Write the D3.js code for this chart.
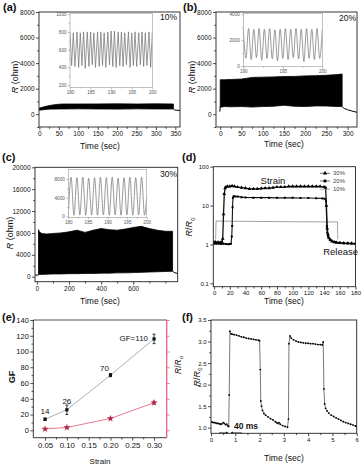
<!DOCTYPE html>
<html>
<head>
<meta charset="utf-8">
<script src="https://cdn.jsdelivr.net/npm/d3@7"></script>
<style>
body{margin:0;background:#fff;}
svg{display:block;font-family:"Liberation Sans",Arial,sans-serif;}
</style>
</head>
<body>
<svg id="fig" width="362" height="465"></svg>
<script>
/* ---- data ---- */

// (a) 10% strain: envelope of the dense cycling band + tail
var bandATime = [0, 10, 20, 30, 40, 50, 60, 100, 150, 200, 250, 300, 345];
var bandAHigh = [480, 560, 640, 700, 750, 780, 800, 800, 805, 810, 800, 810, 800];
var bandALow  = [320, 350, 380, 400, 400, 410, 410, 420, 410, 400, 420, 410, 410];
var tailATime = [345, 348, 352, 362];
var tailAVal  = [410, 340, 310, 300];
// (a) inset, 180-200 s
var insetATime = [180.0, 180.4, 180.8, 181.2, 181.7, 182.1, 182.5, 182.9, 183.3, 183.7, 184.2, 184.6, 185.0, 185.4, 185.8, 186.2, 186.7, 187.1, 187.5, 187.9, 188.3, 188.7, 189.2, 189.6, 190.0, 190.4, 190.8, 191.2, 191.7, 192.1, 192.5, 192.9, 193.3, 193.7, 194.2, 194.6, 195.0, 195.4, 195.8, 196.2, 196.7, 197.1, 197.5, 197.9, 198.3, 198.7, 199.2, 199.6, 200.0];
var insetAVal  = [790, 420, 790, 410, 800, 400, 790, 420, 800, 390, 800, 410, 800, 430, 790, 400, 800, 410, 800, 420, 790, 400, 800, 430, 810, 410, 810, 400, 800, 420, 800, 410, 790, 430, 800, 400, 790, 420, 800, 410, 790, 430, 800, 410, 790, 420, 800, 400, 800];

// (b) 20% strain
var bandBTime = [0, 10, 25, 50, 75, 100, 125, 150, 175, 200, 225, 250, 275, 287];
var bandBHigh = [2700, 2700, 2720, 2750, 2880, 2900, 2920, 2950, 2960, 3000, 3020, 3050, 3100, 3150];
var bandBLow  = [550, 600, 580, 600, 560, 600, 620, 700, 620, 600, 650, 640, 600, 600];
var headBTime = [-1, 0];
var headBVal  = [200, 600];
var tailBTime = [287, 288, 292, 300, 310, 322];
var tailBVal  = [600, 550, 450, 350, 250, 150];
var insetBTime = [190.0, 190.33, 190.67, 191.0, 191.33, 191.67, 192.0, 192.33, 192.67, 193.0, 193.33, 193.67, 194.0, 194.33, 194.67, 195.0, 195.33, 195.67, 196.0, 196.33, 196.67, 197.0, 197.33, 197.67, 198.0, 198.33, 198.67, 199.0, 199.33, 199.67, 200.0];
var insetBVal  = [2850, 600, 2900, 500, 2850, 650, 2900, 450, 2850, 600, 2900, 550, 2800, 400, 2850, 600, 2900, 500, 2850, 650, 2900, 550, 2850, 350, 2900, 600, 2850, 500, 2900, 600, 2850];

// (c) 30% strain
var bandCTime = [10, 15, 30, 60, 100, 150, 200, 250, 300, 350, 400, 450, 500, 550, 600, 650, 700, 750, 800, 845];
var bandCHigh = [8600, 8200, 7900, 7800, 7900, 8000, 8200, 8500, 8100, 8500, 8800, 8600, 8500, 8700, 9000, 9200, 8800, 8500, 8300, 8300];
var bandCLow  = [400, 400, 420, 450, 500, 500, 550, 550, 600, 600, 650, 650, 700, 700, 750, 800, 850, 900, 950, 1000];
var headCTime = [-12, 10];
var headCVal  = [300, 300];
var tailCTime = [845, 850, 860, 877];
var tailCVal  = [1000, 900, 700, 600];
var insetCTime = [180.0, 180.7, 181.45, 182.2, 182.95, 183.7, 184.45, 185.2, 185.95, 186.7, 187.45, 188.2, 188.95, 189.7, 190.45, 191.2, 191.95, 192.7, 193.45, 194.2, 194.95, 195.7, 196.45, 197.2, 197.95, 198.7, 199.45, 200.0];
var insetCVal  = [300, 8400, 250, 8300, 300, 8400, 250, 8200, 300, 8300, 250, 8400, 300, 8300, 250, 8400, 300, 8200, 250, 8300, 300, 8400, 250, 8300, 300, 8400, 250, 4000];

// (d) R/R0 vs time for three strains
var d30 = [[0,1.15],[2,1.14],[4,1.12],[6,1.13],[8,1.12],[10,1.14],[11,1.4],[12,6],[13,20],[14,28],[15,30],[17,31],[20,31],[23,32],[26,31],[30,30],[35,29],[40,28],[45,27],[50,27],[55,27],[60,27.5],[65,28],[70,28],[75,29],[80,30],[85,30],[90,30],[95,31],[100,31],[105,31],[110,31],[115,31],[120,31],[125,31],[130,31],[135,31],[140,30],[142,29],[143,10],[144,2.6],[145,1.8],[146,1.5],[148,1.3],[150,1.2],[153,1.15],[156,1.12],[160,1.1],[165,1.08],[170,1.07],[175,1.06],[180,1.05]];
var d20 = [[0,1.05],[3,1.04],[6,1.05],[9,1.03],[12,1.04],[15,1.03],[18,1.02],[20,1.03],[21.5,1.05],[22.5,1.6],[23,3],[23.5,9],[24,16],[25,17.5],[27,17.2],[30,17],[35,16.5],[40,16.2],[50,16],[60,16],[70,16],[80,15.8],[90,15.8],[100,15.8],[110,15.7],[120,15.6],[130,15.5],[138,15.3],[141,15],[142.5,13],[143.5,3],[144,2],[145,1.6],[147,1.4],[150,1.25],[155,1.15],[160,1.1],[165,1.08],[170,1.07],[175,1.06],[180,1.05]];
var d10 = [[2,1.35],[2.5,4.0],[30,3.95],[60,3.9],[100,3.85],[140,3.8],[157,3.8],[157.5,1.35]];
var dLegend = ["30%", "20%", "10%"];

// (e) gauge factor and R/R0 vs strain
var strain  = [0.05, 0.10, 0.20, 0.30];
var gf      = [14, 26, 70, 116];
var gfErr   = [1.5, 6, 2, 6];
var rr      = [1.7, 3.6, 15, 35];
var rrErr   = [0.5, 0.8, 1, 2];
var gfLabel = ["14", "26", "70", "GF=110"];

// (f) fast response, R/R0 vs time (s)
var fData = [[0.0,1.14],[0.05,1.13],[0.1,1.12],[0.15,1.12],[0.2,1.11],[0.25,1.1],[0.3,1.1],[0.35,1.09],[0.4,1.08],[0.45,1.09],[0.5,1.12],[0.55,1.1],[0.6,1.07],[0.65,1.08],[0.7,1.04],[0.73,1.03],
 [0.75,1.76],[0.78,3.24],[0.82,3.18],[0.87,3.17],[0.95,3.16],[1.05,3.15],[1.15,3.13],[1.25,3.11],[1.35,3.1],[1.45,3.08],[1.55,3.07],[1.65,3.06],[1.75,3.05],[1.85,3.04],[1.95,3.03],[2.0,3.02],
 [2.03,2.35],[2.05,1.62],[2.08,1.5],[2.12,1.4],[2.18,1.33],[2.25,1.29],[2.35,1.25],[2.45,1.21],[2.55,1.18],[2.65,1.14],[2.7,1.12],[2.75,1.1],[2.8,1.12],[2.85,1.08],[2.95,1.05],[3.05,1.03],[3.15,1.01],
 [3.19,1.2],[3.21,2.95],[3.25,3.13],[3.3,3.08],[3.4,3.04],[3.5,3.01],[3.6,2.99],[3.7,2.98],[3.8,2.97],[3.9,2.96],[4.0,2.96],[4.1,2.95],[4.2,2.95],[4.3,2.94],[4.4,2.93],[4.5,2.93],[4.58,2.92],[4.62,2.99],
 [4.65,1.9],[4.68,1.55],[4.72,1.45],[4.78,1.39],[4.85,1.34],[4.95,1.29],[5.05,1.26],[5.15,1.23],[5.25,1.2],[5.35,1.17],[5.45,1.14],[5.55,1.12],[5.65,1.1],[5.75,1.08],[5.85,1.06],[5.95,1.04],[6.0,1.03]];

/* ---- helpers ---- */
var svg = d3.select("#fig");
var ink = "#222";

//builds scales + a clipped group for one plot box
var makePanel = function(id, box, xDom, yDom, log, bg)
{
    if (bg)
    {
        svg.append("rect").attr("x", box.l).attr("y", box.t)
            .attr("width", box.r - box.l).attr("height", box.b - box.t)
            .attr("fill", "#fff");
    }
    var x = d3.scaleLinear().domain(xDom).range([box.l, box.r]);
    var y = (log ? d3.scaleLog() : d3.scaleLinear()).domain(yDom).range([box.b, box.t]);
    svg.append("clipPath").attr("id", id)
        .append("rect").attr("x", box.l).attr("y", box.t)
        .attr("width", box.r - box.l).attr("height", box.b - box.t);
    var g = svg.append("g").attr("clip-path", "url(#" + id + ")");
    return {x: x, y: y, box: box, g: g};
}

var drawFrame = function(p, color, sw)
{
    svg.append("rect").attr("x", p.box.l).attr("y", p.box.t)
        .attr("width", p.box.r - p.box.l).attr("height", p.box.b - p.box.t)
        .attr("fill", "none").attr("stroke", color || ink).attr("stroke-width", sw || 0.9);
}

// one axis = minor ticks (no text) + major ticks with labels
var drawAxis = function(p, side, majors, minors, fmt, fs, o)
{
    o = o || {};
    var color = o.color || ink;
    var len = o.len || 3;
    var scale = (side == "bottom") ? p.x : p.y;
    var maker = {bottom: d3.axisBottom, left: d3.axisLeft, right: d3.axisRight}[side];
    var pos = side == "bottom" ? "translate(0," + p.box.b + ")" :
              side == "left" ? "translate(" + p.box.l + ",0)" : "translate(" + p.box.r + ",0)";
    if (minors && minors.length)
    {
        var gm = svg.append("g").attr("transform", pos).attr("color", color)
            .call(maker(scale).tickValues(minors).tickFormat("").tickSize(len * 0.6).tickSizeOuter(0));
        gm.select(".domain").remove();
        gm.selectAll("line").attr("stroke-width", o.sw || 0.8);
    }
    var g = svg.append("g").attr("transform", pos).attr("color", color)
        .call(maker(scale).tickValues(majors).tickFormat(fmt).tickSize(len).tickPadding(o.pad || 1.5).tickSizeOuter(0));
    g.attr("font-size", fs).attr("font-family", null);
    g.select(".domain").remove();
    g.selectAll("line").attr("stroke-width", o.sw || 0.8);
    g.selectAll("text").attr("fill", o.textColor || "#111");
    return g;
}

var text = function(x, y, str, fs, anchor, weight)
{
    return svg.append("text").attr("x", x).attr("y", y).attr("font-size", fs)
        .attr("text-anchor", anchor || "start").attr("font-weight", weight || "normal")
        .attr("fill", "#111").text(str);
}

var titleROhm = function(x, y, fs)
{
    var t = svg.append("text").attr("transform", "translate(" + x + "," + y + ") rotate(-90)")
        .attr("text-anchor", "middle").attr("font-size", fs).attr("fill", "#111");
    t.append("tspan").attr("font-style", "italic").text("R");
    t.append("tspan").text(" (ohm)");
}

var titleRR = function(x, y, fs)
{
    var t = svg.append("text").attr("transform", "translate(" + x + "," + y + ") rotate(-90)")
        .attr("text-anchor", "middle").attr("font-size", fs).attr("fill", "#111");
    t.append("tspan").attr("font-style", "italic").text("R");
    t.append("tspan").text("/");
    t.append("tspan").attr("font-style", "italic").text("R");
    t.append("tspan").attr("dy", fs * 0.3).attr("font-size", fs * 0.7).text("o");
}

var bandArea = function(p, time, high, low)
{
    var area = d3.area()
        .x(function(d) { return p.x(d[0]); })
        .y0(function(d) { return p.y(d[2]); })
        .y1(function(d) { return p.y(d[1]); });
    p.g.append("path").datum(d3.zip(time, high, low))
        .attr("d", area).attr("fill", "#000").attr("stroke", "#000").attr("stroke-width", 0.8);
}

var trace = function(p, time, vals, color, sw, curve)
{
    var line = d3.line()
        .x(function(d) { return p.x(d[0]); })
        .y(function(d) { return p.y(d[1]); })
        .curve(curve || d3.curveLinear);
    p.g.append("path").datum(d3.zip(time, vals))
        .attr("d", line).attr("fill", "none").attr("stroke", color).attr("stroke-width", sw);
}

var fmtInt = d3.format("d");

/* ---- (a) ---- */
var pa = makePanel("ca", {l: 39, r: 180, t: 12, b: 127}, [-1, 362], [-1000, 8000]);
bandArea(pa, bandATime, bandAHigh, bandALow);
trace(pa, tailATime, tailAVal, "#000", 1);
drawFrame(pa);
drawAxis(pa, "left", [0, 2000, 4000, 6000, 8000], [-1000, 1000, 3000, 5000, 7000], fmtInt, 6.5);
drawAxis(pa, "bottom", [0, 50, 100, 150, 200, 250, 300, 350], [25, 75, 125, 175, 225, 275, 325], fmtInt, 6.5);
var ia = makePanel("cia", {l: 70, r: 152.3, t: 13.3, b: 87.3}, [180, 200], [175, 1010], false, true);
trace(ia, insetATime, insetAVal, "#6f6f6f", 0.7);
drawFrame(ia, "#999", 0.6);
drawAxis(ia, "left", [200, 400, 600, 800, 1000], [300, 500, 700, 900], fmtInt, 4.6, {color: "#777", len: 2, sw: 0.5, textColor: "#555"});
drawAxis(ia, "bottom", [180, 185, 190, 195, 200], [182.5, 187.5, 192.5, 197.5], fmtInt, 4.6, {color: "#777", len: 2, sw: 0.5, textColor: "#555"});
text(3, 10.5, "(a)", 11, "start", "bold");
text(177, 20, "10%", 8.5, "end");
titleROhm(18, 77, 9);
text(100, 148.5, "Time (sec)", 8.5, "middle");

/* ---- (b) ---- */
var pb = makePanel("cb", {l: 216, r: 357, t: 12, b: 127}, [-10, 322], [-1000, 8000]);
bandArea(pb, bandBTime, bandBHigh, bandBLow);
trace(pb, headBTime, headBVal, "#000", 1);
trace(pb, tailBTime, tailBVal, "#000", 1);
drawFrame(pb);
drawAxis(pb, "left", [0, 2000, 4000, 6000, 8000], [-1000, 1000, 3000, 5000, 7000], fmtInt, 6.5);
drawAxis(pb, "bottom", [0, 50, 100, 150, 200, 250, 300], [25, 75, 125, 175, 225, 275], fmtInt, 6.5);
var ib = makePanel("cib", {l: 243.3, r: 322.3, t: 13.3, b: 66.7}, [190, 200], [-50, 4080], false, true);
trace(ib, insetBTime, insetBVal, "#6f6f6f", 0.7, d3.curveMonotoneX);
drawFrame(ib, "#999", 0.6);
drawAxis(ib, "left", [0, 2000, 4000], [1000, 3000], fmtInt, 4.6, {color: "#777", len: 2, sw: 0.5, textColor: "#555"});
drawAxis(ib, "bottom", [190, 195, 200], [192.5, 197.5], fmtInt, 4.6, {color: "#777", len: 2, sw: 0.5, textColor: "#555"});
text(183, 10.5, "(b)", 11, "start", "bold");
text(356, 21, "20%", 8.5, "end");
titleROhm(195, 77, 9);
text(284, 147, "Time (sec)", 8.5, "middle");

/* ---- (c) ---- */
var pc = makePanel("cc", {l: 35, r: 177.7, t: 167.3, b: 281.7}, [-12, 877], [-915, 20000]);
bandArea(pc, bandCTime, bandCHigh, bandCLow);
trace(pc, headCTime, headCVal, "#000", 1);
trace(pc, tailCTime, tailCVal, "#000", 1);
drawFrame(pc);
drawAxis(pc, "left", [0, 4000, 8000, 12000, 16000, 20000], [2000, 6000, 10000, 14000, 18000], fmtInt, 6.5);
drawAxis(pc, "bottom", [0, 200, 400, 600], [100, 300, 500, 700, 800], fmtInt, 6.5);
var ic = makePanel("cic", {l: 68.3, r: 146.7, t: 169.3, b: 217.3}, [180, 200], [-200, 10100], false, true);
trace(ic, insetCTime, insetCVal, "#6f6f6f", 0.7, d3.curveMonotoneX);
drawFrame(ic, "#999", 0.6);
drawAxis(ic, "left", [0, 4000, 8000], [2000, 6000], fmtInt, 4.6, {color: "#777", len: 2, sw: 0.5, textColor: "#555"});
drawAxis(ic, "bottom", [180, 185, 190, 195, 200], [182.5, 187.5, 192.5, 197.5], fmtInt, 4.6, {color: "#777", len: 2, sw: 0.5, textColor: "#555"});
text(2, 160.5, "(c)", 11, "start", "bold");
text(177, 177, "30%", 8.5, "end");
titleROhm(12.5, 233, 9);
text(100, 304, "Time (sec)", 8.5, "middle");

/* ---- (d) ---- */
var pd = makePanel("cd", {l: 213.3, r: 355.5, t: 166.7, b: 286.7}, [-1, 180], [0.082, 100], true);
var dLine = d3.line()
    .x(function(d) { return pd.x(d[0]); })
    .y(function(d) { return pd.y(d[1]); });
pd.g.append("path").datum(d10).attr("d", dLine).attr("fill", "none").attr("stroke", "#8a8a8a").attr("stroke-width", 0.8);
pd.g.append("path").datum(d20).attr("d", dLine).attr("fill", "none").attr("stroke", "#111").attr("stroke-width", 1.1);
pd.g.selectAll(".m20").data(d20).enter().append("path")
    .attr("transform", function(d) { return "translate(" + pd.x(d[0]) + "," + pd.y(d[1]) + ")"; })
    .attr("d", d3.symbol(d3.symbolSquare).size(4)).attr("fill", "#000");
pd.g.append("path").datum(d30).attr("d", dLine).attr("fill", "none").attr("stroke", "#111").attr("stroke-width", 1.3);
pd.g.selectAll(".m30").data(d30).enter().append("path")
    .attr("transform", function(d) { return "translate(" + pd.x(d[0]) + "," + pd.y(d[1]) + ")"; })
    .attr("d", d3.symbol(d3.symbolTriangle).size(6)).attr("fill", "#000");
drawFrame(pd);
drawAxis(pd, "left", [0.1, 1, 10, 100], [], d3.format(""), 6);
drawAxis(pd, "bottom", [0, 20, 40, 60, 80, 100, 120, 140, 160, 180], [10, 30, 50, 70, 90, 110, 130, 150, 170], fmtInt, 6);
// legend
var legY = [173.3, 181, 189.3];
var legSym = [d3.symbolTriangle, d3.symbolSquare, null];
dLegend.forEach(function(lab, i)
{
    svg.append("line").attr("x1", 320).attr("x2", 330).attr("y1", legY[i]).attr("y2", legY[i])
        .attr("stroke", i == 2 ? "#8a8a8a" : "#333").attr("stroke-width", 0.7);
    if (legSym[i])
    {
        svg.append("path").attr("transform", "translate(325," + legY[i] + ")")
            .attr("d", d3.symbol(legSym[i]).size(8)).attr("fill", "#000");
    }
    text(333, legY[i] + 2, lab, 6, "start").attr("fill", "#444");
});
text(273, 184, "Strain", 9.5, "middle");
text(358, 255, "Release", 9.5, "end");
text(182, 160.5, "(d)", 11, "start", "bold");
titleRR(192, 227, 9);
text(284, 304, "Time (sec)", 8.5, "middle");

/* ---- (e) ---- */
var pe = makePanel("ce", {l: 33.3, r: 166.7, t: 320, b: 437.7}, [0.023, 0.329], [-9.4, 140]);
var yr = d3.scaleLinear().domain([-9.4, 140]).range([437.7, 320]); // right axis (R/R0)
var gfPts = d3.zip(strain, gf, gfErr);
var rrPts = d3.zip(strain, rr, rrErr);
var eLine = d3.line()
    .x(function(d) { return pe.x(d[0]); })
    .y(function(d) { return pe.y(d[1]); });
pe.g.append("path").datum(gfPts).attr("d", eLine).attr("fill", "none").attr("stroke", "#a3b3c2").attr("stroke-width", 1);
pe.g.append("path").datum(rrPts).attr("d", eLine.y(function(d) { return yr(d[1]); }))
    .attr("fill", "none").attr("stroke", "#ec7a90").attr("stroke-width", 1);
var errBars = function(pts, ys, color)
{
    pts.forEach(function(d)
    {
        var cx = pe.x(d[0]);
        var y1 = ys(d[1] - d[2]), y2 = ys(d[1] + d[2]);
        pe.g.append("line").attr("x1", cx).attr("x2", cx).attr("y1", y1).attr("y2", y2).attr("stroke", color).attr("stroke-width", 0.8);
        pe.g.append("line").attr("x1", cx - 1.5).attr("x2", cx + 1.5).attr("y1", y1).attr("y2", y1).attr("stroke", color).attr("stroke-width", 0.8);
        pe.g.append("line").attr("x1", cx - 1.5).attr("x2", cx + 1.5).attr("y1", y2).attr("y2", y2).attr("stroke", color).attr("stroke-width", 0.8);
    });
}
errBars(gfPts, pe.y, "#111");
errBars(rrPts, yr, "#a8283f");
pe.g.selectAll(".gf").data(gfPts).enter().append("rect")
    .attr("x", function(d) { return pe.x(d[0]) - 1.6; })
    .attr("y", function(d) { return pe.y(d[1]) - 1.6; })
    .attr("width", 3.2).attr("height", 3.2).attr("fill", "#111");
pe.g.selectAll(".rr").data(rrPts).enter().append("path")
    .attr("transform", function(d) { return "translate(" + pe.x(d[0]) + "," + yr(d[1]) + ")"; })
    .attr("d", d3.symbol(d3.symbolStar).size(16)).attr("fill", "#b02a48");
// value labels
var labDx = [0, 0, -6, -6];
var labDy = [-5, -6, -4, 2];
var labAnchor = ["middle", "middle", "middle", "end"];
gfLabel.forEach(function(s, i)
{
    text(pe.x(strain[i]) + labDx[i], pe.y(gf[i]) + labDy[i], s, 8, labAnchor[i]);
});
svg.append("line").attr("x1", pe.box.l).attr("x2", pe.box.r).attr("y1", pe.box.t).attr("y2", pe.box.t).attr("stroke", "#555").attr("stroke-width", 1.2);
svg.append("line").attr("x1", pe.box.l).attr("x2", pe.box.r).attr("y1", pe.box.b).attr("y2", pe.box.b).attr("stroke", ink).attr("stroke-width", 0.9);
svg.append("line").attr("x1", pe.box.l).attr("x2", pe.box.l).attr("y1", pe.box.t).attr("y2", pe.box.b).attr("stroke", ink).attr("stroke-width", 0.9);
svg.append("line").attr("x1", pe.box.r).attr("x2", pe.box.r).attr("y1", pe.box.t).attr("y2", pe.box.b).attr("stroke", "#e8637e").attr("stroke-width", 1.3);
drawAxis(pe, "left", [0, 20, 40, 60, 80, 100, 120, 140], [10, 30, 50, 70, 90, 110, 130], fmtInt, 7.5);
drawAxis(pe, "bottom", [0.05, 0.10, 0.15, 0.20, 0.25, 0.30], [0.075, 0.125, 0.175, 0.225, 0.275], d3.format(".2f"), 7.8);
drawAxis(pe, "right", [0, 20, 40, 60, 80, 100, 120, 140], [], "", 7, {color: "#e8637e"});
text(2, 321, "(e)", 11, "start", "bold");
svg.append("text").attr("transform", "translate(14.5,377) rotate(-90)").attr("text-anchor", "middle")
    .attr("font-size", 9).attr("font-weight", "bold").attr("fill", "#111").text("GF");
titleRR(180.5, 365, 8.5);
text(100, 463.5, "Strain", 8, "middle");

/* ---- (f) ---- */
var pf = makePanel("cf", {l: 211, r: 356.7, t: 320, b: 433.3}, [0, 6], [0.87, 3.5]);
var fLine = d3.line()
    .x(function(d) { return pf.x(d[0]); })
    .y(function(d) { return pf.y(d[1]); });
pf.g.append("path").datum(fData).attr("d", fLine).attr("fill", "none").attr("stroke", "#555").attr("stroke-width", 0.8);
pf.g.selectAll(".fp").data(fData).enter().append("circle")
    .attr("cx", function(d) { return pf.x(d[0]); })
    .attr("cy", function(d) { return pf.y(d[1]); })
    .attr("r", 0.9).attr("fill", "#000");
drawFrame(pf);
drawAxis(pf, "left", [1.0, 1.5, 2.0, 2.5, 3.0, 3.5], [1.25, 1.75, 2.25, 2.75, 3.25], d3.format(".1f"), 6);
drawAxis(pf, "bottom", [0, 1, 2, 3, 4, 5, 6], [0.5, 1.5, 2.5, 3.5, 4.5, 5.5], fmtInt, 6);
// 40 ms marker
svg.append("defs").append("marker").attr("id", "arr").attr("viewBox", "0 0 6 6")
    .attr("refX", 5).attr("refY", 3).attr("markerWidth", 4).attr("markerHeight", 4).attr("orient", "auto")
    .append("path").attr("d", "M0,0 L6,3 L0,6 z").attr("fill", "#222");
svg.append("line").attr("x1", 219).attr("x2", 228).attr("y1", 432.8).attr("y2", 432.8)
    .attr("stroke", "#222").attr("stroke-width", 0.7).attr("marker-end", "url(#arr)");
svg.append("line").attr("x1", 242).attr("x2", 231).attr("y1", 432.8).attr("y2", 432.8)
    .attr("stroke", "#222").attr("stroke-width", 0.7).attr("marker-end", "url(#arr)");
text(234, 429, "40 ms", 8.5, "start", "bold");
text(182, 321, "(f)", 11, "start", "bold");
titleRR(199.5, 377, 9);
text(284, 461, "Time (sec)", 8.5, "middle");
</script>
</body>
</html>
